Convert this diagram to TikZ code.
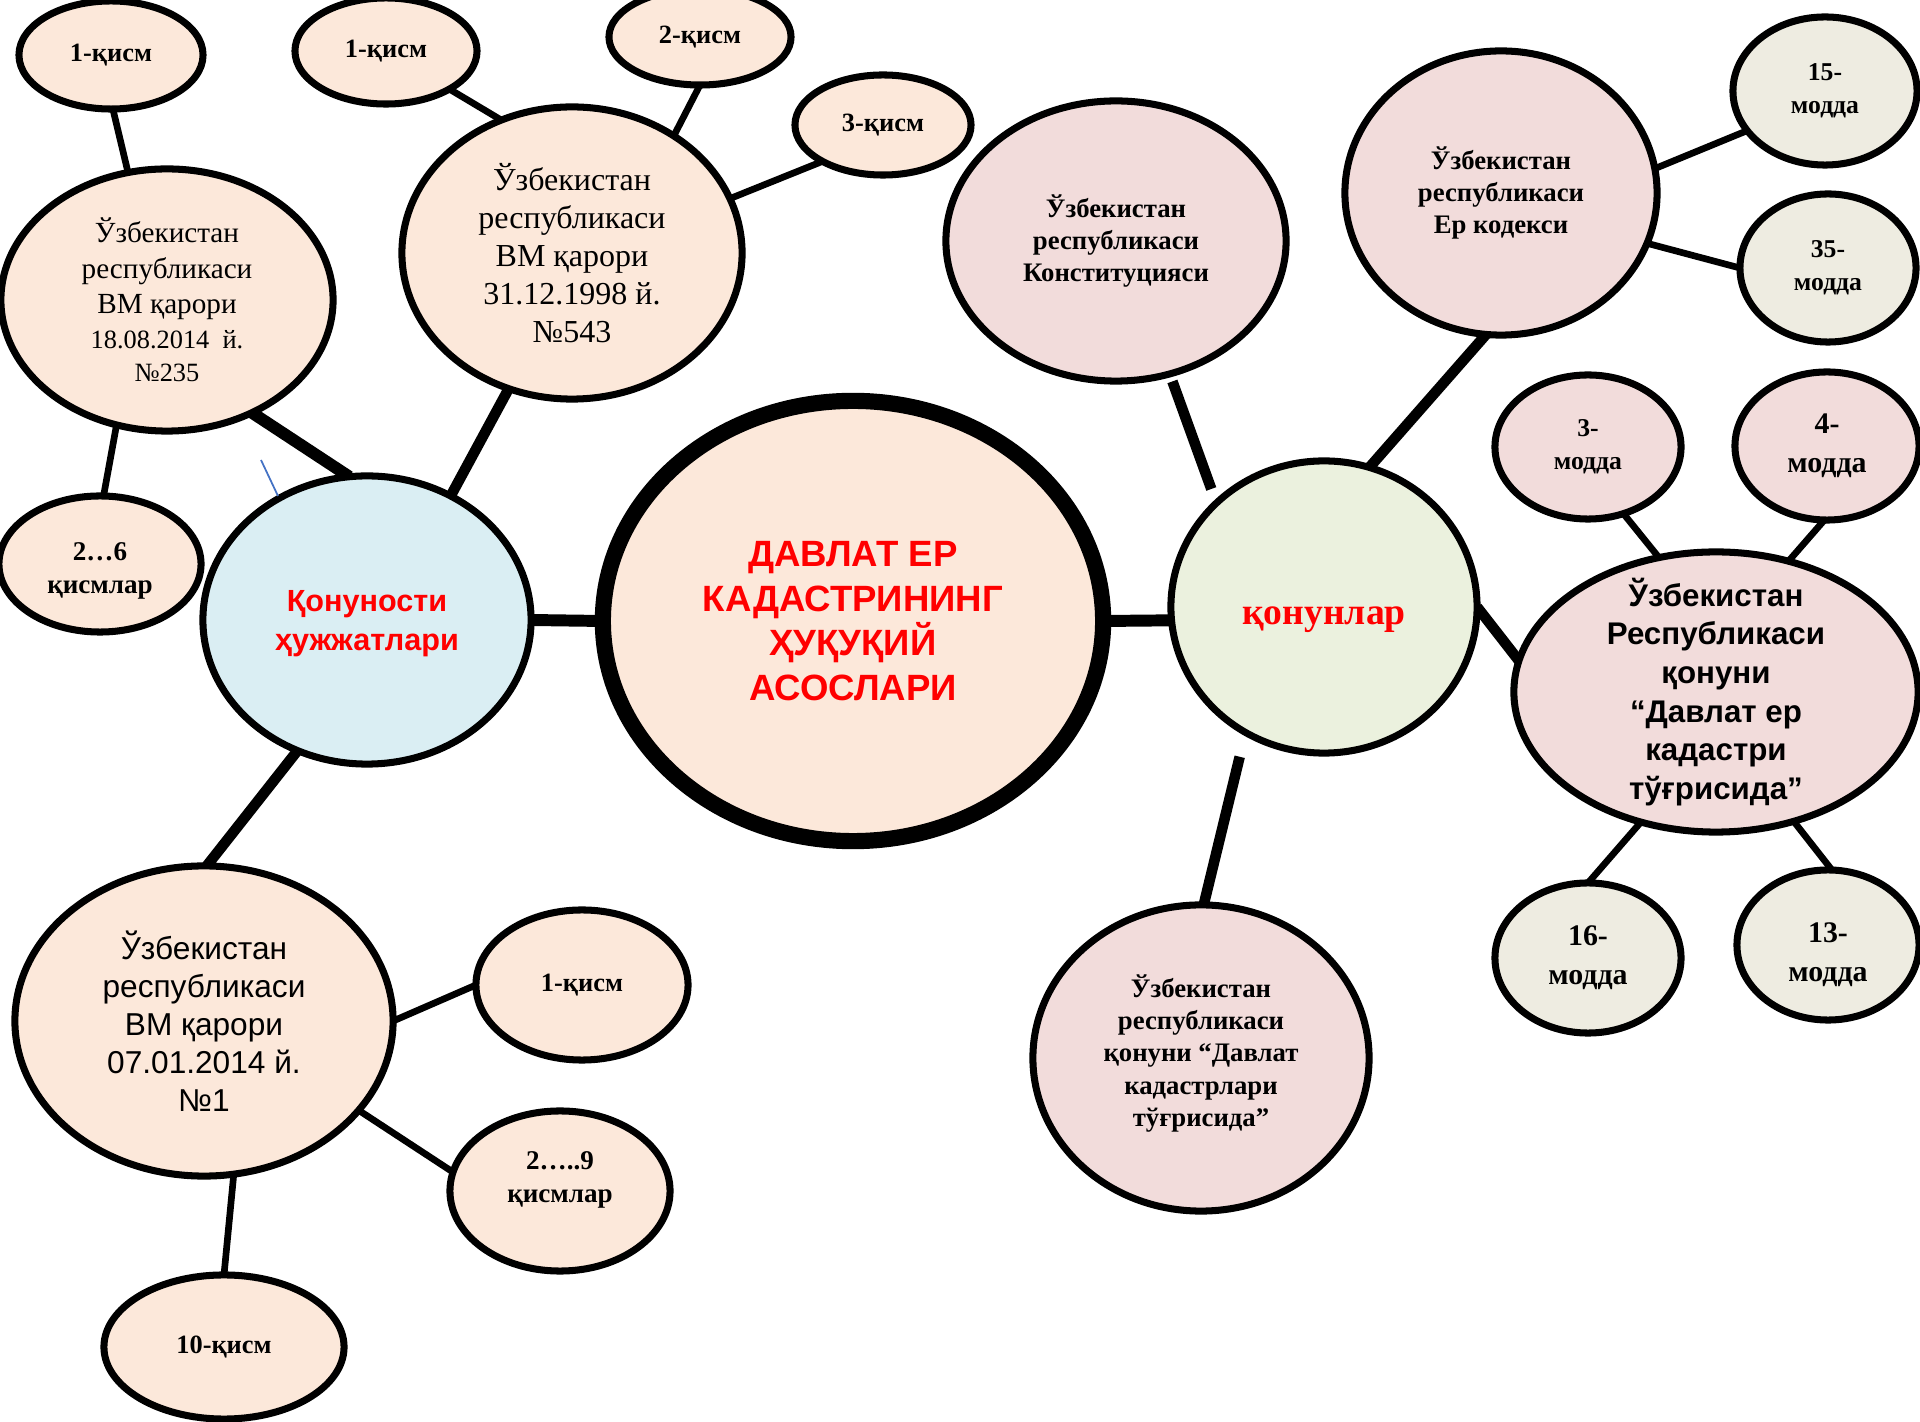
\documentclass[tikz,border=0pt]{standalone}
\usepackage{fontspec}
\setmainfont{Liberation Serif}
\setsansfont{Liberation Sans}
\usetikzlibrary{shapes.geometric}
\pgfdeclarelayer{bg}
\pgfsetlayers{bg,main}
\definecolor{peach}{HTML}{FCE8DA}
\definecolor{lblue}{HTML}{DAEEF3}
\definecolor{lpink}{HTML}{F2DCDB}
\definecolor{lgreen}{HTML}{EBF1DE}
\definecolor{beige}{HTML}{EEECE1}
\definecolor{tred}{HTML}{FF0000}
\definecolor{sblue}{HTML}{4472C4}
\tikzset{
  ell/.style={ellipse, draw=black, line width=2pt, inner sep=-5cm, outer sep=0pt, align=center, text=black},
  fpeach/.style={ell, fill=peach},
  fblue/.style={ell, fill=lblue},
  fpink/.style={ell, fill=lpink},
  fgreen/.style={ell, fill=lgreen},
  fbeige/.style={ell, fill=beige},
  kism/.style={font=\bfseries\fontsize{7.5}{9.2}\selectfont},
  kismlar/.style={font=\bfseries\fontsize{7.7}{9.4}\selectfont},
  modda/.style={font=\bfseries\fontsize{7.3}{9.4}\selectfont},
  moddab/.style={font=\bfseries\fontsize{8.5}{11.1}\selectfont},
  serifb/.style={font=\bfseries\fontsize{7.6}{9.2}\selectfont},
  conn/.style={line width=1.9pt},
  connb/.style={line width=3pt},
  connc/.style={line width=3.4pt}
}
\begin{document}
\begin{tikzpicture}[x=0.01cm,y=-0.01cm]
\useasboundingbox (0,0) rectangle (1920,1422);
% left branch
\node[fpeach, kism, minimum width=1.84cm, minimum height=1.08cm] (A) at (111,55) {1-қисм};
\node[fpeach, kism, minimum width=1.82cm, minimum height=1.06cm] (B) at (386,51) {1-қисм};
\node[fpeach, kism, minimum width=1.82cm, minimum height=0.96cm] (C) at (700,37) {2-қисм};
\node[fpeach, kism, minimum width=1.76cm, minimum height=1.00cm] (D) at (883,125) {3-қисм};
\node[fpeach, font=\fontsize{8.3}{10}\selectfont, minimum width=3.32cm, minimum height=2.62cm] (E) at (167,300)
  {Ўзбекистан\\республикаси\\ВМ қарори\\{\fontsize{7.5}{9.4}\selectfont 18.08.2014~ й.}\\[-0.6pt]{\fontsize{7.5}{9.4}\selectfont №235}};
\node[fpeach, font=\fontsize{9.1}{10.8}\selectfont, minimum width=3.40cm, minimum height=2.92cm] (F) at (572,253)
  {Ўзбекистан\\республикаси\\ВМ қарори\\31.12.1998 й.\\№543};
\node[fpeach, kismlar, minimum width=2.02cm, minimum height=1.36cm] (G) at (100,564) {\mbox{}\\[-0.6pt]2…6\\қисмлар};
\node[fblue, text=tred, font=\sffamily\bfseries\fontsize{8.7}{11.1}\selectfont, minimum width=3.28cm, minimum height=2.88cm] (H) at (367,620)
  {\mbox{}\\[-2.8pt]Қонуности\\ҳужжатлари};
\node[fpeach, line width=4.6pt, text=tred, font=\sffamily\bfseries\fontsize{10.4}{12.7}\selectfont, minimum width=5.00cm, minimum height=4.40cm] (I) at (853,621)
  {ДАВЛАТ ЕР\\КАДАСТРИНИНГ\\ҲУҚУҚИЙ\\АСОСЛАРИ};
\node[fpeach, font=\sffamily\fontsize{9.0}{10.8}\selectfont, minimum width=3.78cm, minimum height=3.10cm] (U) at (204,1021)
  {Ўзбекистан\\республикаси\\ВМ қарори\\07.01.2014 й.\\№1};
\node[fpeach, kism, minimum width=2.12cm, minimum height=1.50cm] (V) at (582,985) {1-қисм};
\node[fpeach, kismlar, minimum width=2.20cm, minimum height=1.60cm] (W) at (560,1191) {2…..9\\қисмлар\\[-1.7pt]\mbox{}};
\node[fpeach, kism, minimum width=2.40cm, minimum height=1.44cm] (X) at (224,1347) {10-қисм};
% right branch
\node[fpink, serifb, minimum width=3.40cm, minimum height=2.80cm] (J) at (1116,241)
  {Ўзбекистан\\республикаси\\Конституцияси};
\node[fpink, serifb, minimum width=3.12cm, minimum height=2.84cm] (K) at (1501,193)
  {Ўзбекистан\\республикаси\\Ер кодекси};
\node[fbeige, modda, minimum width=1.84cm, minimum height=1.48cm] (L) at (1825,91) {15-\\модда};
\node[fbeige, modda, minimum width=1.76cm, minimum height=1.48cm] (M) at (1828,268) {35-\\модда};
\node[fgreen, text=tred, font=\bfseries\fontsize{10.7}{12}\selectfont, minimum width=3.06cm, minimum height=2.92cm] (N) at (1324,607)
  {\mbox{}\\қонунлар};
\node[fpink, modda, minimum width=1.86cm, minimum height=1.44cm] (O) at (1588,447) {3-\\модда};
\node[fpink, moddab, minimum width=1.84cm, minimum height=1.48cm] (P) at (1827,446) {4-\\модда};
\node[fpink, font=\sffamily\bfseries\fontsize{8.9}{11}\selectfont, minimum width=4.04cm, minimum height=2.80cm] (Q) at (1716,692)
  {Ўзбекистан\\Республикаси\\қонуни\\“Давлат ер\\кадастри\\тўғрисида”};
\node[fbeige, moddab, minimum width=1.86cm, minimum height=1.50cm] (R) at (1588,958) {16-\\модда};
\node[fbeige, moddab, minimum width=1.82cm, minimum height=1.50cm] (S) at (1828,945) {\mbox{}\\13-\\модда};
\node[fpink, serifb, minimum width=3.36cm, minimum height=3.06cm] (T) at (1201,1058)
  {Ўзбекистан\\республикаси\\қонуни “Давлат\\кадастрлари\\тўғрисида”\\[-5pt]\mbox{}};
% stray blue stroke
\coordinate (s1) at (261,460);
\coordinate (s2) at (278,496);
\begin{pgfonlayer}{bg}
\draw[conn] (A.-88) -- (E.107);
\draw[conn] (E.-112) -- (G.87);
\draw[connc] (E.-53.4) -- (H.97.9);
\draw[conn] (B.-31) -- (F.118);
\draw[conn] (C.-90) -- (F.49.6);
\draw[conn] (D.-149) -- (F.19);
\draw[connb] (F.-115.5) -- (H.56);
\draw[connc] (H.east) -- (I.west);
\draw[connb] (H.-118.4) -- (U.89);
\draw[connc] (I.east) -- (N.185);
\draw[connb, shorten <=0.08cm, shorten >=0.15cm] (J.-68) -- (N.136.5);
\draw[connb] (K.-96) -- (N.72.6);
\draw[conn] (K.9.5) -- (L.-153);
\draw[conn] (K.-19.9) -- (M.180);
\draw[connb] (N.0) -- (Q.171);
\draw[connb, shorten <=0.25cm] (N.-122.5) -- (T.89);
\draw[conn] (O.-62) -- (Q.113.6);
\draw[conn] (P.-92) -- (Q.61.6);
\draw[conn] (Q.-120.8) -- (R.90);
\draw[conn] (Q.-59.2) -- (S.87);
\draw[conn] (U.0) -- (V.180);
\draw[conn] (U.-30) -- (W.170.6);
\draw[conn] (U.-79.5) -- (X.90);
\end{pgfonlayer}
\draw[sblue, line width=0.5pt] (s1) -- (s2);
\end{tikzpicture}
\end{document}
